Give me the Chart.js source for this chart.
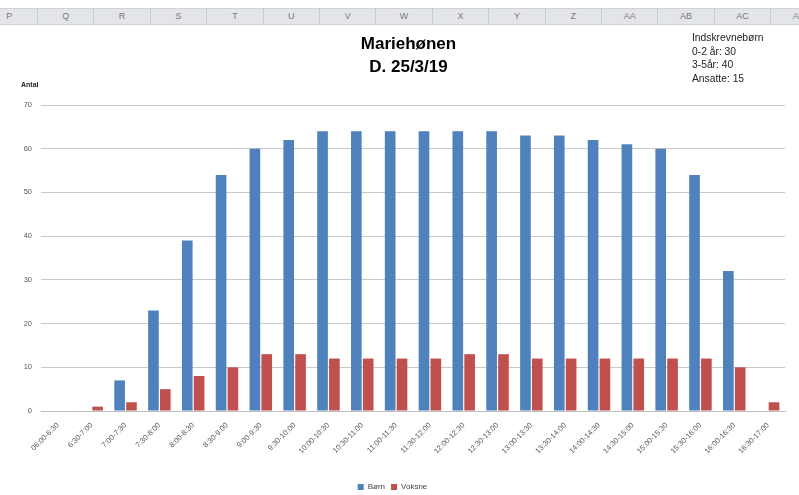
<!DOCTYPE html>
<html>
<head>
<meta charset="utf-8">
<script src="https://cdn.jsdelivr.net/npm/chart.js@4"></script>
<style>
  html, body { margin:0; padding:0; background:#fff; }
  body { width:799px; height:495px; position:relative; overflow:hidden; font-family:"Liberation Sans", Arial, sans-serif; }
  #hdr { position:absolute; left:0; top:8px; width:799px; height:15px; background:#e3e5e9; border-top:1px solid #cfd2d6; border-bottom:1px solid #cfd2d6; }
  .col { position:absolute; top:0; height:15px; line-height:15px; text-align:center; color:#7a7a7a; font-size:9px; border-left:1px solid #c9ccd1; box-sizing:border-box; }
  #chartWrap { position:absolute; left:0; top:0; width:799px; height:501px; }
  #title { position:absolute; width:799px; top:32px; left:9px; text-align:center; font-weight:bold; font-size:17px; line-height:23px; color:#000; }
  #info { position:absolute; left:692px; top:31px; font-size:10.3px; line-height:13.7px; color:#222; }
  #antal { position:absolute; left:21px; top:81px; font-size:7px; font-weight:bold; color:#222; }
</style>
</head>
<body>
<div id="hdr"></div>
<div id="chartWrap"><canvas id="c" width="799" height="501"></canvas></div>
<div id="title">Mariehønen<br>D. 25/3/19</div>
<div id="info">Indskrevnebørn<br>0-2 år: 30<br>3-5år: 40<br>Ansatte: 15</div>
<div id="antal">Antal</div>
<script>
const columnLetters = ["P","Q","R","S","T","U","V","W","X","Y","Z","AA","AB","AC","AD"];
const categories = ["06:00-6:30","6:30-7:00","7:00-7:30","7:30-8:00","8:00-8:30","8:30-9:00","9:00-9:30","9:30-10:00","10:00-10:30","10:30-11:00","11:00-11:30","11:30-12:00","12:00-12:30","12:30-13:00","13:00-13:30","13:30-14:00","14:00-14:30","14:30-15:00","15:00-15:30","15:30-16:00","16:00-16:30","16:30-17:00"];
const born = [0,0,7,23,39,54,60,62,64,64,64,64,64,64,63,63,62,61,60,54,32,0];
const voksne = [0,1,2,5,8,10,13,13,12,12,12,12,13,13,12,12,12,12,12,12,10,2];
const yTicks = [0,10,20,30,40,50,60,70];

// spreadsheet column header
const hdr = document.getElementById('hdr');
const colW = 56.4, firstEdge = 37 - colW;
columnLetters.forEach((l, i) => {
  const d = document.createElement('div');
  d.className = 'col';
  d.style.left = (firstEdge + i * colW) + 'px';
  d.style.width = colW + 'px';
  d.textContent = l;
  hdr.appendChild(d);
});

new Chart(document.getElementById('c'), {
  type: 'bar',
  data: {
    labels: categories,
    datasets: [
      { label: 'Børn', data: born, backgroundColor: '#4f81bd', categoryPercentage: 0.7, barPercentage: 0.9 },
      { label: 'Voksne', data: voksne, backgroundColor: '#c0504d', categoryPercentage: 0.7, barPercentage: 0.9 }
    ]
  },
  options: {
    responsive: false,
    animation: false,
    devicePixelRatio: 1,
    layout: { padding: { left: 0, right: 14, top: 105, bottom: 0 } },
    plugins: {
      legend: {
        position: 'bottom',
        labels: { boxWidth: 6, boxHeight: 6, padding: 6, font: { size: 8, family: 'Liberation Sans' }, color: '#444' }
      },
      tooltip: { enabled: false }
    },
    scales: {
      x: {
        grid: { display: false },
        border: { display: true, color: '#bfbfbf' },
        ticks: { maxRotation: 45, minRotation: 45, autoSkip: false, font: { size: 7.5, family: 'Liberation Sans' }, color: '#595959', padding: 2 },
        afterFit: (s) => { s.height = 66; }
      },
      y: {
        min: 0, max: 70,
        afterBuildTicks: (s) => { s.ticks = yTicks.map(v => ({ value: v })); },
        grid: { color: '#c8c8c8', drawTicks: false },
        border: { display: false },
        ticks: { font: { size: 7.5, family: 'Liberation Sans' }, color: '#595959', padding: 9 },
        afterFit: (s) => { s.width = 41; }
      }
    }
  }
});
</script>
</body>
</html>
